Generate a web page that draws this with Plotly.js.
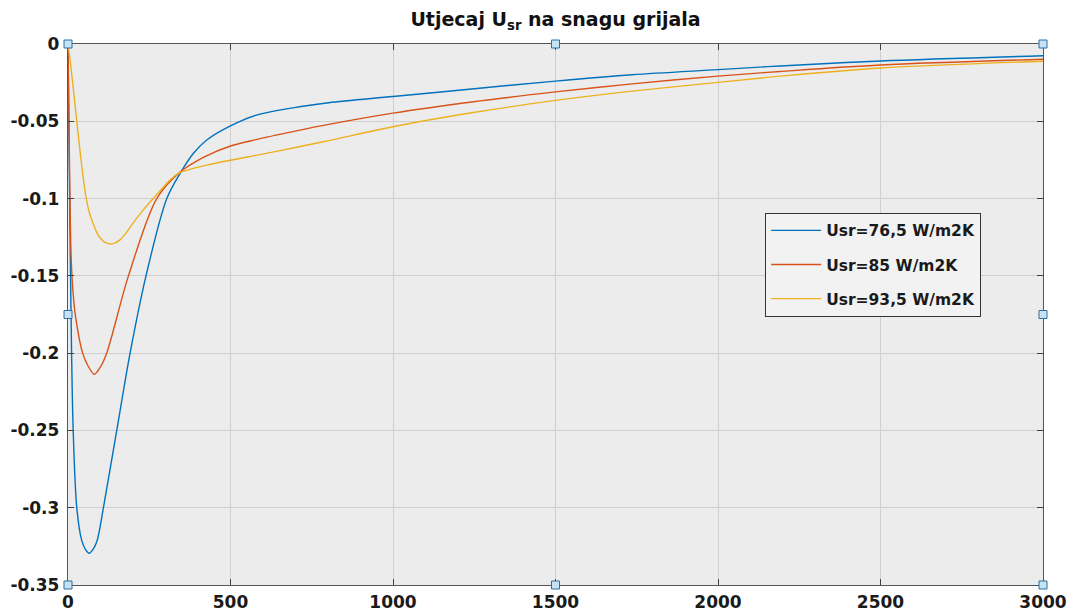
<!DOCTYPE html>
<html>
<head>
<meta charset="utf-8">
<script src="https://cdn.plot.ly/plotly-3.0.1.min.js"></script>
<style>html,body{margin:0;padding:0;background:#fff;}#chart{width:1070px;height:612px;}</style>
</head>
<body>
<div id="chart"></div>
<script>
// Usr = 76,5 W/m2K
const xBlue = [0, 5, 11, 16, 27, 42, 55, 65, 77, 90, 109, 150, 191, 240, 304, 345, 386, 427, 500, 582, 692, 802, 1000, 1242, 1500, 1736, 2000, 2191, 2500, 3000];
const yBlue = [0, -0.1, -0.2, -0.25, -0.3, -0.321, -0.3275, -0.3295, -0.327, -0.321, -0.3, -0.25, -0.2, -0.15, -0.1, -0.0837, -0.0707, -0.0621, -0.053, -0.0459, -0.0413, -0.038, -0.034, -0.0291, -0.024, -0.0199, -0.0166, -0.0142, -0.011, -0.0076];
// Usr = 85 W/m2K
const xRed = [0, 3, 6, 10, 16, 25, 45, 63, 81, 100, 119, 186, 273, 340, 418, 500, 582, 692, 802, 1000, 1242, 1500, 1736, 2000, 2191, 2500, 3000];
const yRed = [0, -0.05, -0.1, -0.14, -0.162, -0.179, -0.2, -0.2088, -0.2137, -0.2088, -0.2, -0.15, -0.1, -0.0837, -0.0732, -0.066, -0.0617, -0.0567, -0.052, -0.0447, -0.0375, -0.031, -0.0258, -0.0208, -0.0178, -0.0136, -0.0099];
// Usr = 93,5 W/m2K
const xYellow = [0, 5, 11, 19, 27, 39, 47, 55, 65, 78, 90, 104, 117, 131, 145, 160, 178, 196, 228, 262, 314, 340, 386, 430, 500, 582, 692, 802, 1000, 1242, 1500, 1736, 2000, 2191, 2500, 3000];
const yYellow = [0, -0.008, -0.019, -0.034, -0.05, -0.0729, -0.087, -0.0985, -0.1085, -0.1165, -0.1225, -0.1267, -0.1287, -0.1294, -0.1286, -0.1267, -0.1225, -0.117, -0.1083, -0.1, -0.088, -0.0837, -0.0805, -0.0782, -0.0752, -0.0719, -0.0673, -0.0625, -0.0535, -0.0445, -0.0365, -0.0305, -0.0248, -0.0208, -0.0155, -0.0112];

const seriesNames = ['Usr=76,5 W/m2K', 'Usr=85 W/m2K', 'Usr=93,5 W/m2K'];
const seriesColors = ['#0072BD', '#D95319', '#EDB120'];

const xTickVals = [0, 500, 1000, 1500, 2000, 2500, 3000];
const xTickText = ['0', '500', '1000', '1500', '2000', '2500', '3000'];
const yTickVals = [0, -0.05, -0.1, -0.15, -0.2, -0.25, -0.3, -0.35];
const yTickText = ['0', '-0.05', '-0.1', '-0.15', '-0.2', '-0.25', '-0.3', '-0.35'];

const xs = [xBlue, xRed, xYellow];
const ys = [yBlue, yRed, yYellow];
const traces = xs.map((x, i) => ({
  x: x, y: ys[i], type: 'scatter', mode: 'lines', name: seriesNames[i],
  legendgroup: 'g' + i,
  line: {color: seriesColors[i], width: 1.4, shape: 'spline', smoothing: 0.9}
}));

const FONT = 'DejaVu Sans, Liberation Sans, Arial, sans-serif';

// selection handles (corners and mid-points of the axes box)
const handles = [];
const hx = [0, 0.5, 1, 0, 1, 0, 0.5, 1];
const hy = [1, 1, 1, 0.5, 0.5, 0, 0, 0];
for (let i = 0; i < hx.length; i++) {
  handles.push({type: 'rect', xref: 'paper', yref: 'paper', xsizemode: 'pixel', ysizemode: 'pixel',
    xanchor: hx[i], yanchor: hy[i], x0: -4, x1: 4, y0: -4, y1: 4,
    fillcolor: '#c6e2f5', line: {color: '#2f6f9f', width: 1}});
}

const layout = {
  width: 1070, height: 612,
  margin: {l: 68, r: 27, t: 44, b: 27, pad: 0},
  paper_bgcolor: '#ffffff',
  plot_bgcolor: '#ececec',
  title: {text: '<b>Utjecaj U<sub>sr</sub> na snagu grijala</b>', font: {family: FONT, size: 19, color: '#111'},
          x: 0.5, xref: 'paper', y: 0.968, yref: 'container', yanchor: 'middle'},
  xaxis: {range: [0, 3000], tickvals: xTickVals, ticktext: xTickText, ticks: 'inside', ticklen: 6,
          tickcolor: '#404040', showline: true, linecolor: '#555', linewidth: 1.2, mirror: 'ticks',
          showgrid: true, gridcolor: '#cfcfcf', gridwidth: 1, zeroline: false,
          tickfont: {family: FONT, size: 17, color: '#1a1a1a', weight: 'bold'}, ticklabelstandoff: 1, fixedrange: true},
  yaxis: {range: [-0.35, 0], tickvals: yTickVals, ticktext: yTickText, ticks: 'inside', ticklen: 6,
          tickcolor: '#404040', showline: true, linecolor: '#555', linewidth: 1.2, mirror: 'ticks',
          showgrid: true, gridcolor: '#cfcfcf', gridwidth: 1, zeroline: false,
          tickfont: {family: FONT, size: 17, color: '#1a1a1a', weight: 'bold'}, ticklabelstandoff: 4, fixedrange: true},
  showlegend: true,
  legend: {x: 0.715, y: 0.688, xanchor: 'left', yanchor: 'top', bgcolor: '#f2f2f2', bordercolor: '#333',
           borderwidth: 1, font: {family: FONT, size: 15.5, color: '#1a1a1a', weight: 'bold'},
           traceorder: 'grouped', tracegroupgap: 11, itemwidth: 50},
  shapes: handles
};

Plotly.newPlot('chart', traces, layout, {displayModeBar: false, staticPlot: true});
</script>
</body>
</html>
